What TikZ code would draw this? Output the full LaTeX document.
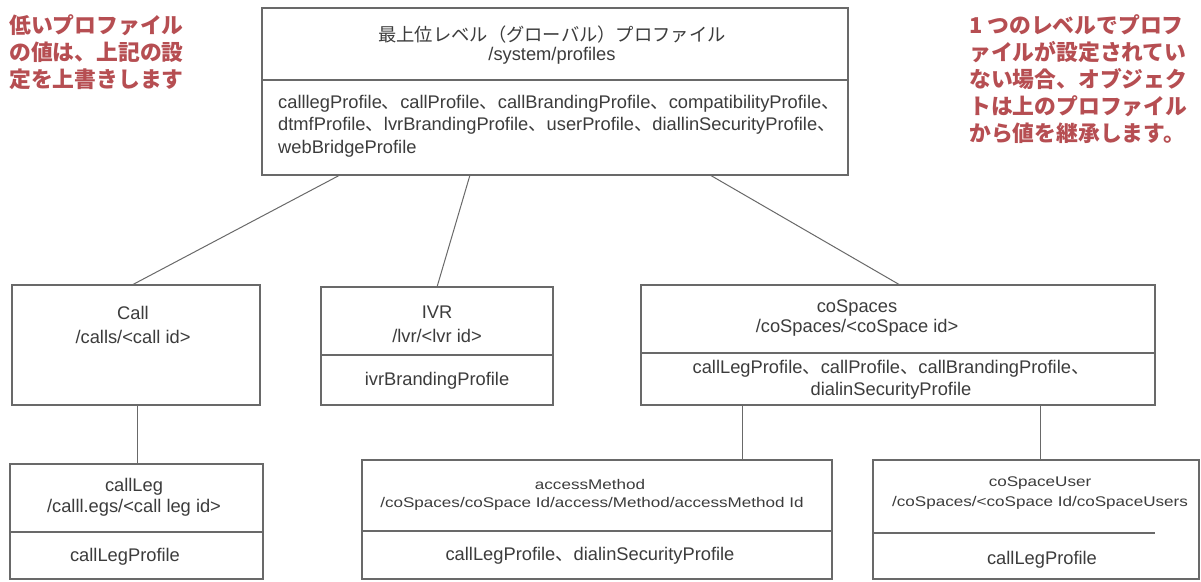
\documentclass[tikz,border=0pt]{standalone}
\usepackage{fontspec}
\setmainfont{Liberation Sans}
\newfontfamily\jp{Noto Sans CJK JP}
\newfontfamily\widefont[FakeStretch=1.22]{Liberation Sans}
\usetikzlibrary{calc}
\newcommand\tc{{\jp 、}}
\definecolor{notecol}{RGB}{182,78,82}
\definecolor{edgecol}{RGB}{105,105,105}
\definecolor{txtcol}{RGB}{60,60,60}
\tikzset{
  box/.style={draw=edgecol, line width=1.2pt, anchor=north west, inner sep=0pt, outer sep=0pt},
  divider/.style={draw=edgecol, line width=1.2pt},
  link/.style={draw=edgecol, line width=1pt},
  lbl/.style={text=txtcol, inner sep=0pt, font=\fontsize{18.3}{21.5}\selectfont},
  small/.style={text=txtcol, inner sep=0pt, font=\widefont\fontsize{14}{20}\selectfont},
  notetext/.style={text=notecol, inner sep=0pt, anchor=north west, align=left,
    font=\jp\bfseries\fontsize{21.8}{27}\selectfont},
}
\begin{document}
\begin{tikzpicture}[x=1pt,y=-1pt]
\useasboundingbox (0,0) rectangle (1201,581);
\fill[white] (0,0) rectangle (1201,581);

% boxes
\node[box, minimum width=586pt, minimum height=167pt] (top) at (262,8) {};
\node[box, minimum width=248pt, minimum height=120pt] (call) at (12,285) {};
\node[box, minimum width=232pt, minimum height=118pt] (ivr) at (321,287) {};
\node[box, minimum width=514pt, minimum height=120pt] (cosp) at (641,285) {};
\node[box, minimum width=253pt, minimum height=115pt] (leg) at (10,464) {};
\node[box, minimum width=470pt, minimum height=119pt] (am) at (362,460) {};
\node[box, minimum width=326pt, minimum height=119pt] (csu) at (873,460) {};

% dividers
\coordinate (dTop) at (0,80);
\coordinate (dIvr) at (0,355);
\coordinate (dCosp) at (0,353);
\coordinate (dLeg) at (0,532);
\coordinate (dAm) at (0,531);
\coordinate (dCsu) at (1155,533);
\draw[divider] (top.west |- dTop) -- (top.east |- dTop);
\draw[divider] (ivr.west |- dIvr) -- (ivr.east |- dIvr);
\draw[divider] (cosp.west |- dCosp) -- (cosp.east |- dCosp);
\draw[divider] (leg.west |- dLeg) -- (leg.east |- dLeg);
\draw[divider] (am.west |- dAm) -- (am.east |- dAm);
\draw[divider] (csu.west |- dCsu) -- (dCsu);

% connectors
\coordinate (x1) at (340,0);
\coordinate (x2) at (132,0);
\coordinate (x3) at (470,0);
\coordinate (x4) at (437,0);
\coordinate (x5) at (710,0);
\coordinate (x6) at (900,0);
\coordinate (x7) at (137,0);
\coordinate (x8) at (742,0);
\coordinate (x9) at (1040,0);
\draw[link] (top.south -| x1) -- (call.north -| x2);
\draw[link] (top.south -| x3) -- (ivr.north -| x4);
\draw[link] (top.south -| x5) -- (cosp.north -| x6);
\draw[link] (call.south -| x7) -- (leg.north -| x7);
\draw[link] (cosp.south -| x8) -- (am.north -| x8);
\draw[link] (cosp.south -| x9) -- (csu.north -| x9);

% texts
\node[lbl] (tTitle) at (552,35) {\jp 最上位レベル（グローバル）プロファイル};
\node[lbl] (tPath) at (552,56) {/system/profiles};
\node[lbl, anchor=north west, align=left] (tBody) at (278,95)
  {calllegProfile\tc callProfile\tc callBrandingProfile\tc compatibilityProfile\tc\\[1pt]
   dtmfProfile\tc lvrBrandingProfile\tc userProfile\tc diallinSecurityProfile\tc\\[1pt]
   webBridgeProfile};

\node[lbl] (cName) at (133,313) {Call};
\node[lbl] (cPath) at (133,337) {/calls/<call id>};

\node[lbl] (iName) at (437,312) {IVR};
\node[lbl] (iPath) at (437,336) {/lvr/<lvr id>};
\node[lbl] (iBody) at (437,381) {ivrBrandingProfile};

\node[lbl] (sName) at (857,308) {coSpaces};
\node[lbl] (sPath) at (857,328) {/coSpaces/<coSpace id>};
\node[lbl, align=center] (sBody) at (891,380)
  {callLegProfile\tc callProfile\tc callBrandingProfile\tc\\ dialinSecurityProfile};

\node[lbl] (lName) at (134,487) {callLeg};
\node[lbl] (lPath) at (134,508) {/calll.egs/<call leg id>};
\node[lbl] (lBody) at (125,557) {callLegProfile};

\node[small] (aName) at (590,484) {accessMethod};
\node[small] (aPath) at (592,504) {/coSpaces/coSpace Id/access/Method/accessMethod Id};
\node[lbl] (aBody) at (590,556) {callLegProfile\tc dialinSecurityProfile};

\node[small] (uName) at (1040,483) {coSpaceUser};
\node[small] (uPath) at (1040,503) {/coSpaces/<coSpace Id/coSpaceUsers};
\node[lbl] (uBody) at (1042,560) {callLegProfile};

% notes
\node[notetext] (noteL) at (9,14) {低いプロファイル\\の値は、上記の設\\定を上書きします};
\node[notetext] (noteR) at (969,14) {1 つのレベルでプロフ\\ァイルが設定されてい\\ない場合、オブジェク\\トは上のプロファイル\\から値を継承します。};
\end{tikzpicture}
\end{document}
